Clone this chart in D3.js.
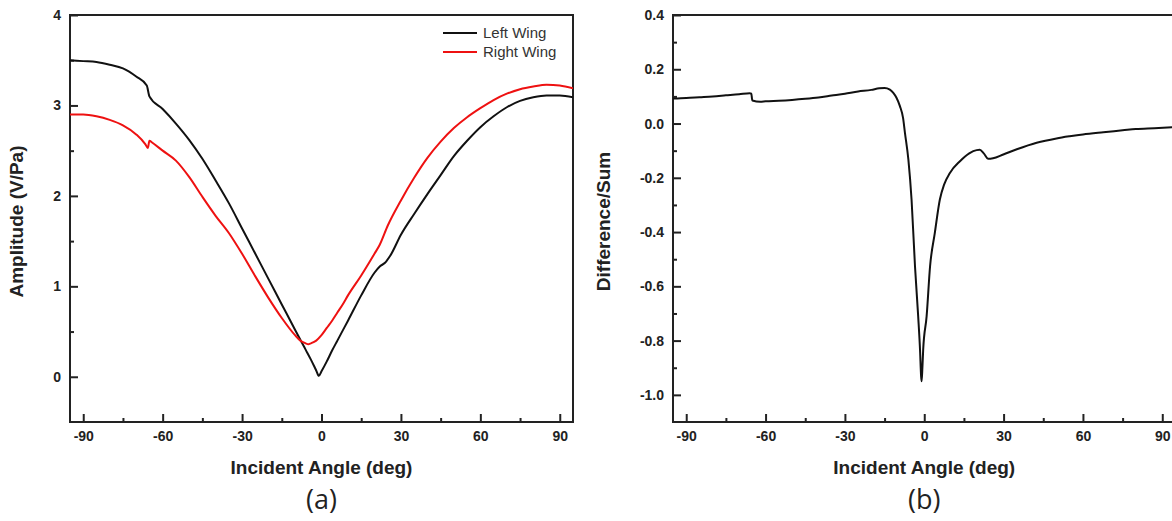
<!DOCTYPE html>
<html lang="en">
<head>
<meta charset="utf-8">
<style>
    body { margin: 0; background: #fff; }
    svg { display: block; }
    .tick text { font-family: "Liberation Sans", Arial, sans-serif; font-weight: bold; font-size: 14px; fill: #222; }
    .tick line { stroke: #222; stroke-width: 2; }
    .domain { display: none; }
    .title { font-family: "Liberation Sans", Arial, sans-serif; font-weight: bold; font-size: 19px; fill: #222; }
    .caption { font-family: "Open Sans", sans-serif; font-size: 27px; fill: #222; }
    .legend text { font-family: "Liberation Sans", Arial, sans-serif; font-size: 15px; fill: #333; }
</style>
<script src="https://d3js.org/d3.v7.min.js"></script>
</head>
<body>
<svg width="1172" height="521"></svg>
<script>
// ---- data ----
// (a) amplitude vs incident angle
var leftAngles = [-95,-90,-85,-80,-75,-70,-66,-65,-60,-55,-50,-45,-40,-35,-30,-25,-20,-15,-10,-8,-6,-4,-2,-1,0,2,4,6,8,10,15,20,22,24,26,30,35,40,45,50,55,60,65,70,75,80,85,90,95];
var leftWing = [3.50,3.49,3.48,3.45,3.41,3.32,3.22,3.10,2.96,2.80,2.62,2.41,2.17,1.92,1.64,1.36,1.08,0.80,0.52,0.41,0.30,0.19,0.07,0.01,0.06,0.17,0.29,0.40,0.51,0.62,0.90,1.15,1.22,1.26,1.34,1.57,1.80,2.02,2.23,2.44,2.61,2.76,2.88,2.98,3.05,3.09,3.11,3.11,3.09];

var rightAngles = [-95,-90,-85,-80,-75,-70,-66.5,-65.6,-65,-64,-60,-55,-50,-45,-40,-35,-30,-25,-20,-15,-10,-8,-6,-5,-4,-2,0,2,4,6,8,10,15,20,22,25,30,35,40,45,50,55,60,65,70,75,80,85,90,95];
var rightWing = [2.90,2.90,2.88,2.84,2.78,2.68,2.57,2.53,2.61,2.59,2.50,2.39,2.21,1.99,1.78,1.59,1.36,1.11,0.87,0.65,0.46,0.40,0.37,0.36,0.37,0.40,0.46,0.54,0.62,0.71,0.80,0.90,1.12,1.36,1.46,1.67,1.95,2.20,2.42,2.60,2.75,2.87,2.97,3.06,3.13,3.18,3.21,3.23,3.22,3.19];

// (b) difference / sum
var ratioAngles = [-95,-90,-85,-80,-75,-70,-66,-65.4,-65,-62,-60,-55,-50,-45,-40,-35,-30,-25,-20,-17,-15,-13,-11.7,-10.5,-9.2,-8,-7.3,-6,-4.8,-3.5,-2.3,-1.6,-1.2,-1,-0.7,-0.4,0.9,2.2,4,5.9,7.5,9.7,13.5,17,19.8,21,22.5,24.2,26,29.9,35,42.5,50,55,60,67.7,75,80,87,95];
var ratio = [0.092,0.094,0.097,0.100,0.104,0.108,0.112,0.110,0.085,0.080,0.082,0.084,0.087,0.091,0.096,0.103,0.110,0.118,0.124,0.130,0.131,0.125,0.113,0.095,0.064,0.020,-0.034,-0.133,-0.28,-0.526,-0.71,-0.833,-0.93,-0.95,-0.90,-0.833,-0.71,-0.526,-0.403,-0.28,-0.225,-0.182,-0.139,-0.110,-0.098,-0.097,-0.110,-0.130,-0.128,-0.114,-0.095,-0.071,-0.055,-0.047,-0.040,-0.032,-0.025,-0.020,-0.017,-0.013];

// tick labels
var xTicks = [-90,-60,-30,0,30,60,90];
var xMinor = [-75,-45,-15,15,45,75];
var yTicksA = [0,1,2,3,4];
var yMinorA = [0.5,1.5,2.5,3.5];
var yTicksB = [-1.0,-0.8,-0.6,-0.4,-0.2,0.0,0.2,0.4];
var yMinorB = [-0.9,-0.7,-0.5,-0.3,-0.1,0.1,0.3];
var legendNames = ["Left Wing", "Right Wing"];
var legendColors = ["#111", "#ee1111"];

var svg = d3.select("svg");

function panel(id, x0, x1, yDomain, yTicks, yMinor, yFmt, yTitle, yTitleX, caption) {
    var top = 15, bottom = 422;
    var x = d3.scaleLinear().domain([-95, 95]).range([x0, x1]);
    var y = d3.scaleLinear().domain(yDomain).range([bottom, top]);
    var g = svg.append("g");

    g.append("clipPath").attr("id", id)
        .append("rect").attr("x", x0).attr("y", top).attr("width", x1 - x0).attr("height", bottom - top);

    // inward ticks, major + minor
    g.append("g").attr("transform", "translate(0," + bottom + ")")
        .call(d3.axisBottom(x).tickValues(xTicks).tickSize(-8).tickPadding(9).tickFormat(function(d) { return String(d); }));
    g.append("g").attr("transform", "translate(0," + bottom + ")")
        .call(d3.axisBottom(x).tickValues(xMinor).tickSize(-4).tickFormat(""));
    g.append("g").attr("transform", "translate(" + x0 + ",0)")
        .call(d3.axisLeft(y).tickValues(yTicks).tickSize(-8).tickPadding(9).tickFormat(yFmt));
    g.append("g").attr("transform", "translate(" + x0 + ",0)")
        .call(d3.axisLeft(y).tickValues(yMinor).tickSize(-4).tickFormat(""));

    g.append("rect")
        .attr("x", x0).attr("y", top).attr("width", x1 - x0).attr("height", bottom - top)
        .attr("fill", "none").attr("stroke", "#222").attr("stroke-width", 2);

    g.append("text").attr("class", "title")
        .attr("text-anchor", "middle")
        .attr("transform", "translate(" + yTitleX + "," + ((top + bottom) / 2 + 3) + ") rotate(-90)")
        .text(yTitle);

    var cx = x(0);
    g.append("text").attr("class", "title").attr("text-anchor", "middle")
        .attr("x", cx).attr("y", 474).text("Incident Angle (deg)");
    g.append("text").attr("class", "caption").attr("text-anchor", "middle")
        .attr("x", cx).attr("y", 509).text(caption);

    return { g: g, x: x, y: y, clip: "url(#" + id + ")" };
}

function drawLine(p, angles, values, color) {
    var pts = angles.map(function(a, i) { return [a, values[i]]; });
    var line = d3.line()
        .curve(d3.curveMonotoneX)
        .x(function(d) { return p.x(d[0]); })
        .y(function(d) { return p.y(d[1]); });
    p.g.append("path")
        .datum(pts)
        .attr("clip-path", p.clip)
        .attr("fill", "none")
        .attr("stroke", color)
        .attr("stroke-width", 2)
        .attr("stroke-linejoin", "round")
        .attr("d", line);
}

// panel (a)
var pa = panel("clipA", 70, 573, [-0.5, 4], yTicksA, yMinorA, function(d) { return String(d); }, "Amplitude (V/Pa)", 23, "(a)");
drawLine(pa, leftAngles, leftWing, legendColors[0]);
drawLine(pa, rightAngles, rightWing, legendColors[1]);

var legend = pa.g.append("g").attr("class", "legend");
legendNames.forEach(function(name, i) {
    var ly = 33 + i * 19;
    legend.append("line").attr("x1", 443).attr("x2", 477).attr("y1", ly).attr("y2", ly)
        .attr("stroke", legendColors[i]).attr("stroke-width", 2);
    legend.append("text").attr("x", 483).attr("y", ly + 5).text(name);
});

// panel (b)
var pb = panel("clipB", 673, 1175.5, [-1.1, 0.4], yTicksB, yMinorB, function(d) { return d.toFixed(1); }, "Difference/Sum", 610, "(b)");
drawLine(pb, ratioAngles, ratio, "#111");
</script>
</body>
</html>
